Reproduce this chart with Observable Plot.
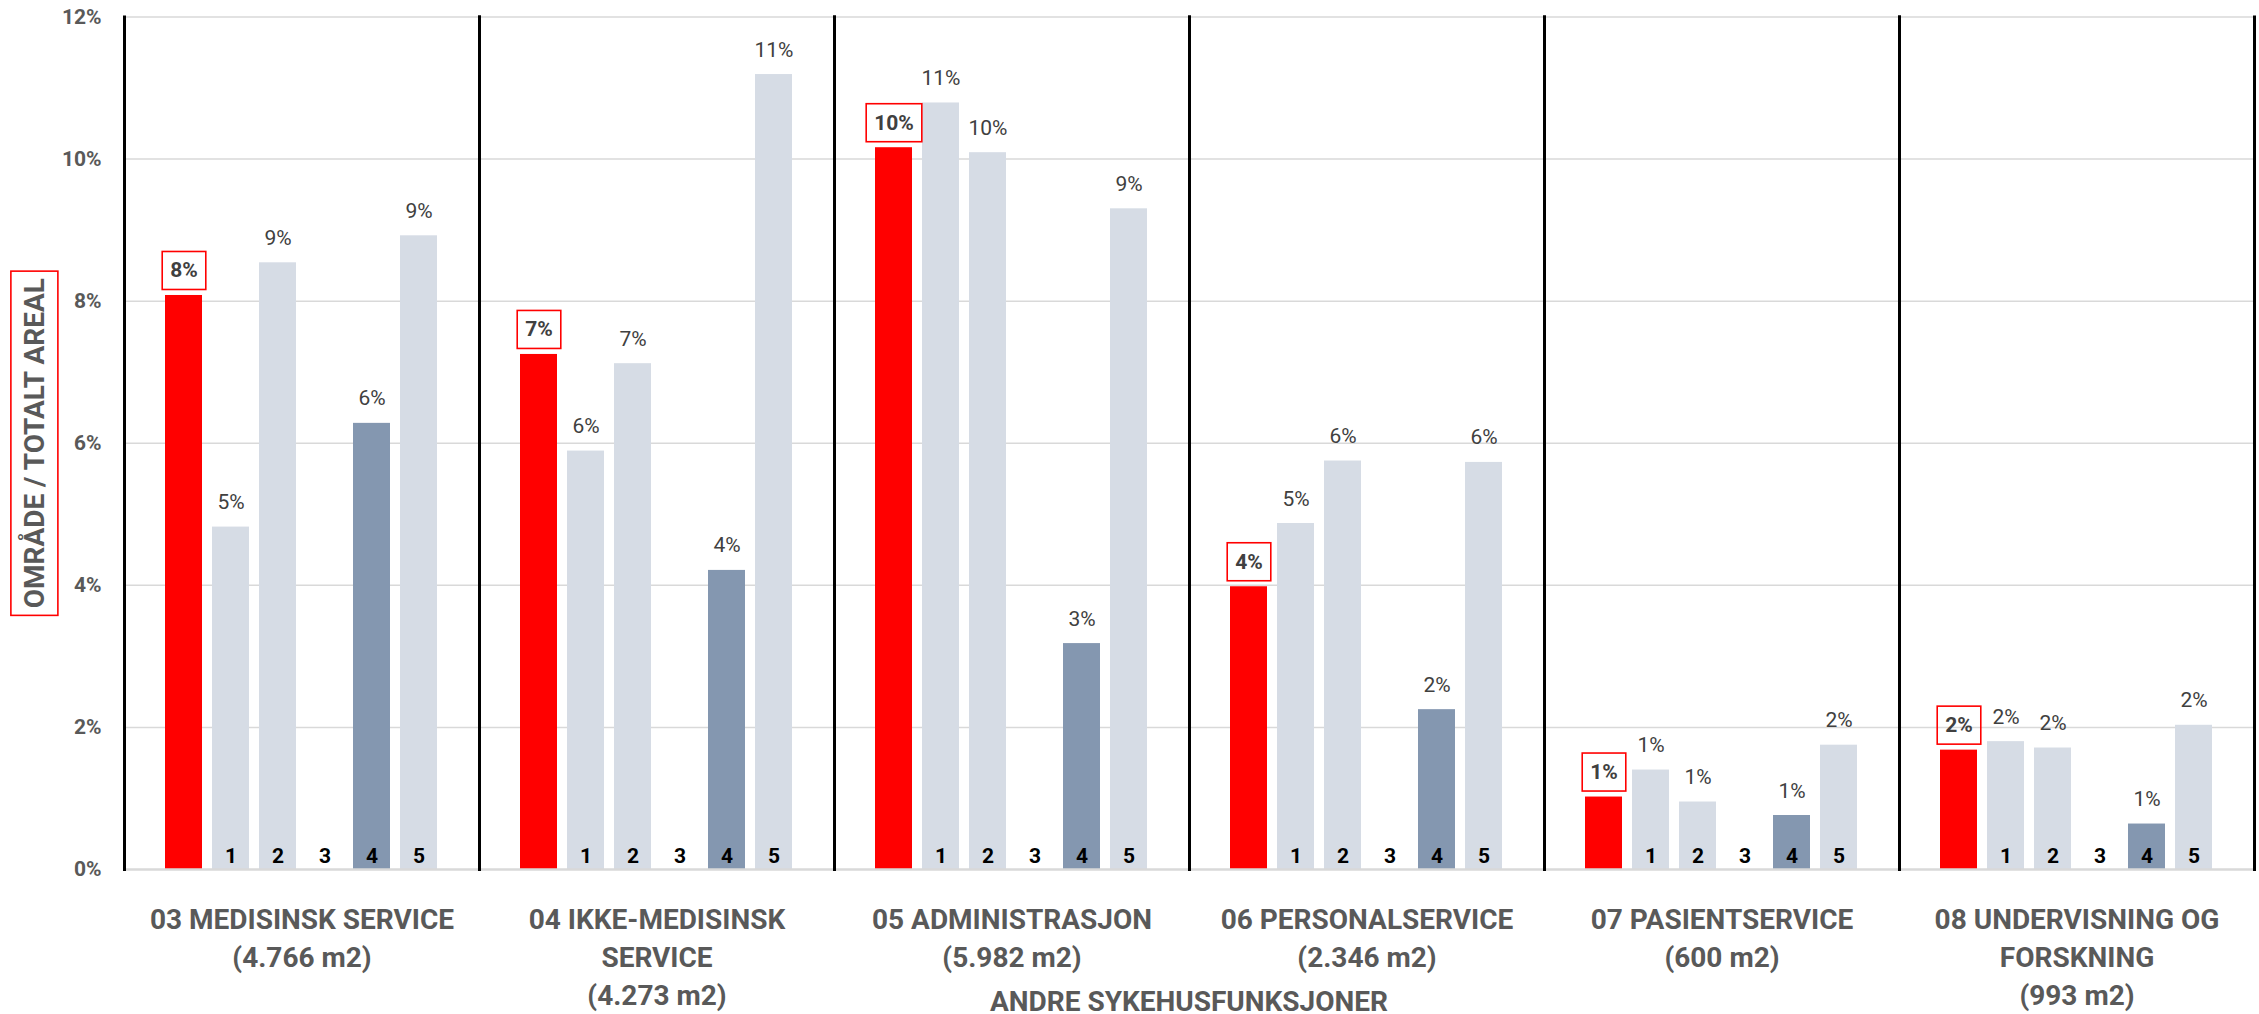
<!DOCTYPE html>
<html>
<head>
<meta charset="utf-8">
<script src="https://cdn.jsdelivr.net/npm/d3@7"></script>
<script src="https://cdn.jsdelivr.net/npm/@observablehq/plot@0.6"></script>
<style>
  html, body { margin: 0; padding: 0; background: #fff; overflow: hidden; }
  #wrap { width: 2259px; height: 1014px; position: relative; }
  #title {
    position: absolute; left: 0; top: 987px; width: 2259px; box-sizing: border-box;
    font-family: Roboto, sans-serif;
    font-weight: bold; font-size: 28px; color: #595959;
    height: 30px; line-height: 30px; text-align: center;
    padding-left: 123px; padding-right: 4px; white-space: nowrap;
  }
</style>
</head>
<body>
<div id="wrap">
  <div id="chart"></div>
  <div id="title"></div>
</div>
<script>
// ---- data ----
const groups = ["03 MEDISINSK SERVICE", "04 IKKE-MEDISINSK SERVICE", "05 ADMINISTRASJON", "06 PERSONALSERVICE", "07 PASIENTSERVICE", "08 UNDERVISNING OG FORSKNING"];
const groupLabels = ["03 MEDISINSK SERVICE\n(4.766 m2)", "04 IKKE-MEDISINSK\nSERVICE\n(4.273 m2)", "05 ADMINISTRASJON\n(5.982 m2)", "06 PERSONALSERVICE\n(2.346 m2)", "07 PASIENTSERVICE\n(600 m2)", "08 UNDERVISNING OG\nFORSKNING\n(993 m2)"];
const bars = ["0", "1", "2", "3", "4", "5"];
const barNumbers = ["", "1", "2", "3", "4", "5"];
const current = [8.08, 7.25, 10.16, 3.98, 1.02, 1.68];
const ref1 = [4.82, 5.89, 10.79, 4.87, 1.40, 1.80];
const ref2 = [8.54, 7.12, 10.09, 5.75, 0.95, 1.71];
const ref3 = [null, null, null, null, null, null];
const ref4 = [6.28, 4.21, 3.18, 2.25, 0.76, 0.64];
const ref5 = [8.92, 11.19, 9.30, 5.73, 1.75, 2.03];
const yTicks = [0, 2, 4, 6, 8, 10, 12];
const yLabel = "OMRÅDE / TOTALT AREAL";
const xTitle = "ANDRE SYKEHUSFUNKSJONER";

// ---- styles ----
const barColors = ["#FF0000", "#D6DCE5", "#D6DCE5", "#D6DCE5", "#8497B0", "#D6DCE5"];
const FONT = "Roboto, sans-serif";
const GRAY = "#595959";

const series = [current, ref1, ref2, ref3, ref4, ref5];
const rows = [];
groups.forEach((g, i) => bars.forEach((b, j) => rows.push({group: g, bar: b, value: series[j][i], num: barNumbers[j]})));
const valued = rows.filter(d => d.value != null);
const groupRows = groups.map((g, i) => ({group: g, label: groupLabels[i]}));

const chart = Plot.plot({
  width: 2259,
  height: 1014,
  marginTop: 16.5,
  marginBottom: 145,
  marginLeft: 123,
  marginRight: 4,
  style: {fontFamily: FONT, background: "#fff"},
  fx: {domain: groups, padding: 0, axis: null},
  x: {domain: bars, paddingInner: 0.21, paddingOuter: 0.855, axis: null},
  y: {domain: [0, 12], axis: null},
  color: {domain: bars, range: barColors},
  marks: [
    Plot.gridY(yTicks.filter(t => t > 0), {stroke: "#D9D9D9", strokeOpacity: 1, strokeWidth: 1.5}),
    Plot.axisY(yTicks, {tickSize: 0, tickPadding: 23, tickFormat: d => d + "%", fontSize: 21, fontWeight: "bold", fill: GRAY, label: null}),
    Plot.barY(valued, {fx: "group", x: "bar", y: "value", fill: "bar"}),
    Plot.ruleY([0], {stroke: "#D9D9D9", strokeWidth: 2.5}),
    Plot.frame({anchor: "left", stroke: "#000", strokeWidth: 3}),
    Plot.frame({anchor: "right", stroke: "#000", strokeWidth: 3}),
    Plot.text(valued.filter(d => d.bar !== "0"), {fx: "group", x: "bar", y: "value", text: d => Math.round(d.value) + "%", lineAnchor: "bottom", dy: -18, fontSize: 21, fill: "#404040"}),
    Plot.text(valued.filter(d => d.bar === "0"), {fx: "group", x: "bar", y: "value", text: d => Math.round(d.value) + "%", lineAnchor: "bottom", dy: -18, fontSize: 21, fontWeight: "bold", fill: "#404040", className: "red-label"}),
    Plot.text(rows.filter(d => d.num !== ""), {fx: "group", x: "bar", y: () => 0, text: "num", lineAnchor: "bottom", dy: -7, fontSize: 21, fontWeight: "bold", fill: "#000"}),
    Plot.text(groupRows, {fx: "group", text: "label", frameAnchor: "bottom", lineAnchor: "top", dy: 33, lineHeight: 1.357, fontSize: 28, fontWeight: "bold", fill: GRAY}),
    Plot.text([{group: groups[0], label: yLabel}], {fx: "group", text: "label", frameAnchor: "left", dx: -100, rotate: -90, lineAnchor: "top", textAnchor: "middle", fontSize: 28, fontWeight: "bold", fill: GRAY, className: "ylabel-box"})
  ]
});

document.getElementById("chart").append(chart);
document.getElementById("title").textContent = xTitle;

const NS = "http://www.w3.org/2000/svg";
function boxAround(t, padAlong, boxAcross, shift) {
  const b = t.getBBox();
  const r = document.createElementNS(NS, "rect");
  const cy = b.y + b.height / 2 + shift;
  r.setAttribute("x", b.x - padAlong);
  r.setAttribute("width", b.width + 2 * padAlong);
  r.setAttribute("y", cy - boxAcross / 2);
  r.setAttribute("height", boxAcross);
  r.setAttribute("fill", "none");
  r.setAttribute("stroke", "#FF0000");
  r.setAttribute("stroke-width", 1.6);
  const tr = t.getAttribute("transform");
  if (tr) r.setAttribute("transform", tr);
  t.parentNode.insertBefore(r, t);
}
chart.querySelectorAll(".red-label text").forEach(t => boxAround(t, 8, 38, 0));
chart.querySelectorAll(".ylabel-box text").forEach(t => boxAround(t, 7, 47, 0));
</script>
</body>
</html>
